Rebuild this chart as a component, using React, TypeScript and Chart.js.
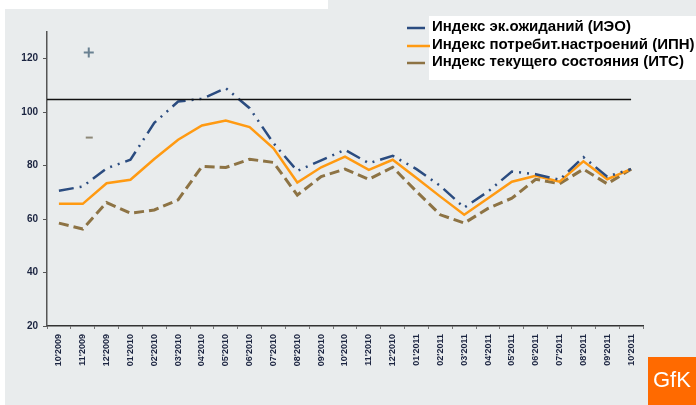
import React, { useEffect, useRef } from "react";
import { Chart, registerables } from "chart.js";

Chart.register(...registerables);

const categories = [
  "10'2009", "11'2009", "12'2009",
  "01'2010", "02'2010", "03'2010", "04'2010", "05'2010", "06'2010",
  "07'2010", "08'2010", "09'2010", "10'2010", "11'2010", "12'2010",
  "01'2011", "02'2011", "03'2011", "04'2011", "05'2011", "06'2011",
  "07'2011", "08'2011", "09'2011", "10'2011",
];

const ieoValues = [70.6, 72.2, 79, 82.2, 96, 104, 105, 109, 101.5, 88.4, 78, 82, 85.9, 80.9, 83.7, 78.7, 72.4, 64.3, 70.3, 77.8, 76.8, 74.7, 83.2, 75.9, 78.7];
const ipnValues = [65.7, 65.7, 73.4, 74.7, 82.5, 89.7, 95, 96.9, 94.4, 86.5, 73.7, 79.4, 83.4, 78.4, 82.2, 75.4, 68.4, 61.6, 67.8, 74, 76.2, 74, 81.6, 74.9, 78.7];
const itsValues = [58.5, 56.3, 66.2, 62.2, 63.4, 67.2, 79.7, 79.3, 82.4, 81.2, 69, 75.9, 78.7, 74.9, 79.4, 70.3, 61.6, 58.5, 64, 67.8, 74.9, 73.2, 78.7, 73.2, 78.7];

const seriesLabels = [
  "Индекс эк.ожиданий (ИЭО)",
  "Индекс потребит.настроений (ИПН)",
  "Индекс текущего состояния (ИТС)",
];

const yTicks = [20, 40, 60, 80, 100, 120];
const referenceLevel = 105;

const BLUE = "#2b4c80";
const ORANGE = "#ff9a12";
const BROWN = "#8d7344";
const BG = "#e9eced";

const decorPlugin = {
  id: "decor",
  beforeDraw(chart: any) {
    const ctx = chart.ctx;
    ctx.save();
    ctx.fillStyle = BG;
    ctx.fillRect(0, 0, chart.width, chart.height);
    ctx.fillStyle = "#ffffff";
    ctx.fillRect(0, 0, 328, 9);
    ctx.fillRect(0, 0, 5, chart.height);
    ctx.restore();
  },
  afterDatasetsDraw(chart: any) {
    const ctx = chart.ctx;
    const x = chart.scales.x;
    const y = chart.scales.y;
    ctx.save();
    // reference line
    const yy = Math.round(y.getPixelForValue(referenceLevel)) + 0.5;
    ctx.strokeStyle = "#111111";
    ctx.lineWidth = 1.5;
    ctx.beginPath();
    ctx.moveTo(chart.chartArea.left, yy);
    ctx.lineTo(x.getPixelForValue(categories.length - 1), yy);
    ctx.stroke();
    // small marks
    const mx = x.getPixelForValue(1) + 6;
    const py = y.getPixelForValue(122.3);
    ctx.strokeStyle = "#6a8192";
    ctx.lineWidth = 2;
    ctx.beginPath();
    ctx.moveTo(mx - 5, py);
    ctx.lineTo(mx + 5, py);
    ctx.moveTo(mx, py - 5);
    ctx.lineTo(mx, py + 5);
    ctx.stroke();
    const my = y.getPixelForValue(90.5);
    ctx.strokeStyle = "#8d8878";
    ctx.beginPath();
    ctx.moveTo(mx - 3, my);
    ctx.lineTo(mx + 4, my);
    ctx.stroke();
    ctx.restore();
  },
  afterDraw(chart: any) {
    const ctx = chart.ctx;
    ctx.save();
    // legend box
    ctx.fillStyle = "#ffffff";
    ctx.fillRect(429, 16, chart.width - 429, 64);
    const rows = [27, 45, 62];
    const colors = [BLUE, ORANGE, BROWN];
    chart.data.datasets.forEach((ds: any, i: number) => {
      ctx.strokeStyle = colors[i];
      ctx.lineWidth = 2.5;
      ctx.beginPath();
      ctx.moveTo(407, rows[i] + 1);
      ctx.lineTo(i === 1 ? 430 : 425, rows[i] + 1);
      ctx.stroke();
      ctx.fillStyle = "#000000";
      ctx.font = "bold 15px 'Liberation Sans', Arial";
      ctx.textAlign = "left";
      ctx.textBaseline = "middle";
      ctx.fillText(ds.label, 432, rows[i]);
    });
    // logo
    ctx.fillStyle = "#ff6a00";
    ctx.fillRect(648, 357, chart.width - 648, chart.height - 357);
    ctx.fillStyle = "#ffffff";
    ctx.font = "22px 'Liberation Sans', Arial";
    ctx.textAlign = "left";
    ctx.textBaseline = "middle";
    ctx.fillText("GfK", 653, 381);
    ctx.restore();
  },
};

export default function App() {
  const ref = useRef<HTMLCanvasElement | null>(null);
  useEffect(() => {
    if (!ref.current) return;
    const chart = new Chart(ref.current, {
      type: "line",
      data: {
        labels: categories,
        datasets: [
          {
            label: seriesLabels[0],
            data: ieoValues,
            borderColor: BLUE,
            borderWidth: 2.5,
            borderDash: [15, 6, 2, 6, 2, 6],
            pointRadius: 0,
            tension: 0,
            fill: false,
          },
          {
            label: seriesLabels[1],
            data: ipnValues,
            borderColor: ORANGE,
            borderWidth: 2.5,
            pointRadius: 0,
            tension: 0,
            fill: false,
          },
          {
            label: seriesLabels[2],
            data: itsValues,
            borderColor: BROWN,
            borderWidth: 3,
            borderDash: [10, 5],
            pointRadius: 0,
            tension: 0,
            fill: false,
          },
        ],
      },
      options: {
        animation: false,
        responsive: false,
        devicePixelRatio: 1,
        layout: { padding: { top: 32, right: 53, left: 0, bottom: 0 } },
        plugins: { legend: { display: false }, tooltip: { enabled: false } },
        scales: {
          x: {
            type: "category",
            offset: true,
            grid: { display: true, drawOnChartArea: false, offset: true, tickLength: 3, color: "#777777" },
            border: { display: true, color: "#333333", width: 1.5 },
            ticks: {
              autoSkip: false,
              maxRotation: 90,
              minRotation: 90,
              padding: 5,
              color: "#1b2440",
              font: { family: "'Liberation Sans', Arial", size: 9, weight: "bold" },
            },
            afterFit: (s: any) => { s.height = 79; },
          },
          y: {
            min: 20,
            max: 130,
            afterBuildTicks: (s: any) => { s.ticks = yTicks.map((v) => ({ value: v })); },
            grid: { display: true, drawOnChartArea: false, tickLength: 4, color: "#555555" },
            border: { display: true, color: "#555555", width: 1.5 },
            ticks: {
              padding: 5,
              color: "#1b2440",
              font: { family: "'Liberation Sans', Arial", size: 10, weight: "bold" },
            },
            afterFit: (s: any) => { s.width = 47; },
          },
        },
      },
      plugins: [decorPlugin],
    } as any);
    return () => chart.destroy();
  }, []);
  return (
    <div style={{ position: "fixed", left: 0, top: 0, width: 696, height: 405 }}>
      <canvas ref={ref} width={696} height={405} style={{ display: "block" }} />
    </div>
  );
}
